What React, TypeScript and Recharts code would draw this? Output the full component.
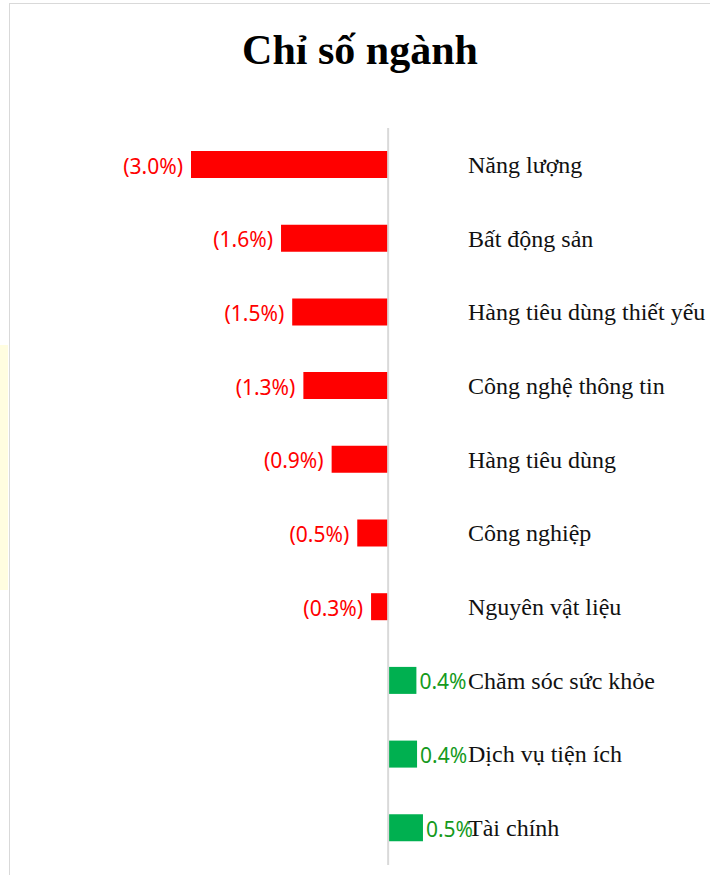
import React from "react";
import {
  BarChart,
  Bar,
  XAxis,
  YAxis,
  Cell,
  LabelList,
  ReferenceLine,
} from "recharts";

const sectors = [
  "Năng lượng",
  "Bất động sản",
  "Hàng tiêu dùng thiết yếu",
  "Công nghệ thông tin",
  "Hàng tiêu dùng",
  "Công nghiệp",
  "Nguyên vật liệu",
  "Chăm sóc sức khỏe",
  "Dịch vụ tiện ích",
  "Tài chính",
];

const changes = [-3.0, -1.63, -1.46, -1.29, -0.86, -0.47, -0.26, 0.43, 0.44, 0.53];

const data = sectors.map((name, i) => ({ name, value: changes[i] }));

const RED = "#ff0000";
const GREEN = "#00b050";
const LABEL_FONT = "'Noto Sans', 'Open Sans', sans-serif";
const CAT_FONT = "'Liberation Serif', 'Times New Roman', serif";

const fmt = (v: number) =>
  v < 0 ? `(${Math.abs(v).toFixed(1)}%)` : `${v.toFixed(1)}%`;

function ValueLabel(props: any) {
  const { x, y, width, height, value } = props;
  const left = Math.min(x, x + width);
  const right = Math.max(x, x + width);
  const cy = y + height / 2 + 1;
  const neg = value < 0;
  return (
    <text
      x={neg ? left - 8 : right + 3}
      y={cy}
      textAnchor={neg ? "end" : "start"}
      dominantBaseline="central"
      fill={neg ? RED : "#159a1c"}
      fontSize={21}
      fontFamily={LABEL_FONT}
    >
      {fmt(value)}
    </text>
  );
}

function SectorTick(props: any) {
  const { x, y, payload } = props;
  return (
    <text
      x={x + 1}
      y={y}
      textAnchor="start"
      dominantBaseline="central"
      fill="#111"
      fontSize={24}
      fontFamily={CAT_FONT}
    >
      {payload.value}
    </text>
  );
}

export default function App() {
  return (
    <div
      style={{
        position: "absolute",
        left: 0,
        top: 0,
        width: 710,
        height: 875,
        background: "#fff",
        overflow: "hidden",
      }}
    >
      <div
        style={{
          position: "absolute",
          left: 0,
          top: 345,
          width: 8,
          height: 245,
          background: "#fffde0",
        }}
      />
      <div
        style={{
          position: "absolute",
          left: 9,
          top: 3,
          width: 720,
          height: 900,
          borderLeft: "1px solid #d9d9d9",
          borderTop: "1px solid #d9d9d9",
        }}
      />
      <div
        style={{
          position: "absolute",
          left: 0,
          top: 24,
          width: 720,
          textAlign: "center",
          fontFamily: CAT_FONT,
          fontWeight: "bold",
          fontSize: 42,
          lineHeight: "52px",
          color: "#000",
        }}
      >
        Chỉ số ngành
      </div>
      <div style={{ position: "absolute", left: 0, top: 0 }}>
        <BarChart
          width={710}
          height={875}
          data={data}
          layout="vertical"
          margin={{ top: 128, right: 0, bottom: 10, left: 191 }}
        >
          <XAxis
            type="number"
            hide
            domain={[-3, 1.2]}
            allowDataOverflow
          />
          <YAxis
            type="category"
            dataKey="name"
            orientation="right"
            width={243}
            axisLine={false}
            tickLine={false}
            tickSize={0}
            tickMargin={0}
            interval={0}
            tick={<SectorTick />}
          />
          <Bar dataKey="value" barSize={27} isAnimationActive={false}>
            {data.map((d, i) => (
              <Cell key={i} fill={d.value < 0 ? RED : GREEN} />
            ))}
            <LabelList dataKey="value" content={<ValueLabel />} />
          </Bar>
          <ReferenceLine x={0} stroke="#d9d9d9" strokeWidth={2} />
        </BarChart>
      </div>
    </div>
  );
}
